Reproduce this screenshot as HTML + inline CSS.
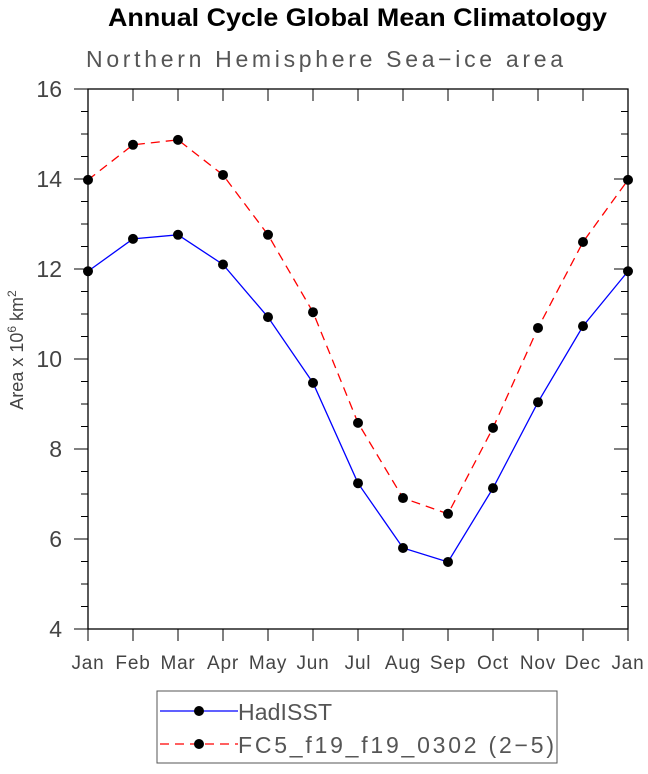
<!DOCTYPE html>
<html><head><meta charset="utf-8"><style>
body{margin:0;background:#fff;}
svg text{font-family:"Liberation Sans",sans-serif;}
</style></head><body>
<svg width="648" height="769" viewBox="0 0 648 769">
<text x="108" y="26" textLength="499" lengthAdjust="spacingAndGlyphs" font-size="25" font-weight="bold" fill="#000">Annual Cycle Global Mean Climatology</text>
<text x="86" y="67" textLength="477" lengthAdjust="spacing" font-size="23" fill="#555">Northern Hemisphere Sea−ice area</text>
<g id="axes"></g>
<g id="series"></g>
<text transform="translate(23,350) rotate(-90)" text-anchor="middle" font-size="18" fill="#444">Area x 10<tspan dy="-7" font-size="12">6</tspan><tspan dy="7"> km</tspan><tspan dy="-7" font-size="12">2</tspan></text>
<g>
<rect x="157" y="691" width="400" height="72" fill="none" stroke="#555" stroke-width="1"/>
<g>
<line x1="160" y1="711" x2="238" y2="711" stroke="#0000ff" stroke-width="1.2"/>
<circle cx="199" cy="711" r="5" fill="#000"/>
<text x="238" y="720" textLength="94" lengthAdjust="spacing" font-size="23" fill="#555">HadISST</text></g>
<g>
<line x1="160" y1="744" x2="238" y2="744" stroke="#ff0000" stroke-width="1.2" stroke-dasharray="9,6"/>
<circle cx="199" cy="744" r="5" fill="#000"/>
<text x="238" y="753" textLength="316" lengthAdjust="spacing" font-size="23" fill="#555">FC5_f19_f19_0302 (2−5)</text></g>
</g>
</svg>
<script>
const months=["Jan","Feb","Mar","Apr","May","Jun","Jul","Aug","Sep","Oct","Nov","Dec","Jan"];
const hadisst=[11.95,12.67,12.76,12.1,10.93,9.47,7.24,5.8,5.49,7.13,9.04,10.73,11.95];
const fc5=[13.98,14.76,14.87,14.09,12.76,11.04,8.58,6.91,6.56,8.47,10.69,12.6,13.98];
const yTicks=[4,6,8,10,12,14,16];
const NS="http://www.w3.org/2000/svg";
const L=88,R=628,T=89,B=629,ymin=4,ymax=16;
const xs=i=>L+i*(R-L)/(months.length-1);
const ys=v=>B-(v-ymin)/(ymax-ymin)*(B-T);
function mk(p,tag,a){const e=document.createElementNS(NS,tag);for(const k in a)e.setAttribute(k,a[k]);p.appendChild(e);return e;}
const ax=document.getElementById('axes');
const frame=mk(ax,'rect',{x:L,y:T,width:R-L,height:B-T,fill:'none',stroke:'#000','stroke-width':1.3});


months.forEach((m,i)=>{
  const x=xs(i);
  mk(ax,'line',{x1:x,y1:B,x2:x,y2:B+12,stroke:'#000','stroke-width':1});
  mk(ax,'line',{x1:x,y1:T,x2:x,y2:T+12,stroke:'#000','stroke-width':1});
  const t=mk(ax,'text',{x:x,y:B+40,'text-anchor':'middle','font-size':19,fill:'#444','letter-spacing':0.8});
  t.textContent=m;
  
  
});
for(let v=ymin;v<=ymax;v+=0.5){
  const y=ys(v),maj=(v%2===0);
  mk(ax,'line',{x1:L-(maj?14:7),y1:y,x2:L,y2:y,stroke:'#000','stroke-width':1});
  mk(ax,'line',{x1:R-(maj?14:7),y1:y,x2:R,y2:y,stroke:'#000','stroke-width':1});
}
yTicks.forEach(v=>{
  const t=mk(ax,'text',{x:62,y:ys(v)+8,'text-anchor':'end','font-size':23,fill:'#444'});
  t.textContent=v;
  
  
});
const sg=document.getElementById('series');
function draw(vals,color,dash,name){
  const pl=mk(sg,'polyline',{points:vals.map((v,i)=>xs(i)+','+ys(v)).join(' '),fill:'none',stroke:color,'stroke-width':1.3});
  if(dash)pl.setAttribute('stroke-dasharray','9,6');
  
  
  vals.forEach((v,i)=>{
    const c=mk(sg,'circle',{cx:xs(i),cy:ys(v),r:5,fill:'#000'});
    
    
  });
}
draw(hadisst,'#0000ff',false,'hadisst');
draw(fc5,'#ff0000',true,'fc5');
</script>
</body></html>
